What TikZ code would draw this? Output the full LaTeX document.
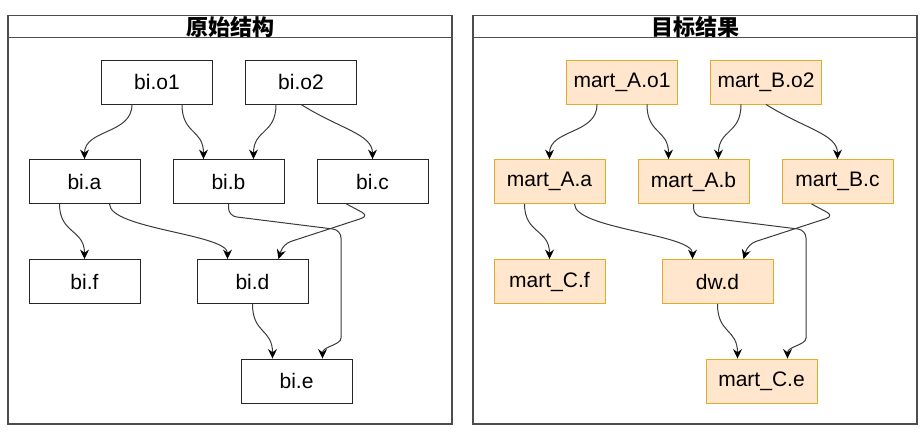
\documentclass[tikz,border=0pt]{standalone}
\usepackage{fontspec}
\setmainfont{Liberation Sans}
\newfontfamily\cjk{Noto Sans CJK SC}
\usetikzlibrary{arrows.meta}
\definecolor{peach}{HTML}{FFE6CC}
\definecolor{gold}{HTML}{E2AC2A}
\definecolor{wire}{HTML}{3A3A3A}
\definecolor{frame}{HTML}{4D4D4D}
\tikzset{
	tbl/.style={draw=black!85, line width=0.9pt, minimum width=111pt, minimum height=44pt, inner sep=0pt, font=\fontsize{21}{24}\selectfont},
	mart/.style={tbl, draw=gold, fill=peach},
	link/.style={draw=wire, line width=1pt, -{Stealth[length=9.5pt,width=9pt,inset=3.2pt,black]}},
	panel/.style={draw=frame, line width=1.3pt},
	ttl/.style={font=\cjk\bfseries\fontsize{22}{24}\selectfont, inner sep=0pt}
}

\begin{document}
\begin{tikzpicture}[x=1pt,y=-1pt]
	\useasboundingbox (0,0) rectangle (921,432);
	% frames
	\draw[panel] (8,15.5) rectangle (452,424) (8,37.5) -- (452,37.5);
	\draw[panel] (473,15.5) rectangle (917,424) (473,37.5) -- (917,37.5);
	\node[ttl] (ttlL) at (230,27) {原始结构};
	\node[ttl] (ttlR) at (695,27) {目标结果};
	% left tables
	\node[tbl] (lo1) at (157,82) {bi.o1};
	\node[tbl] (lo2) at (301,82) {bi.o2};
	\node[tbl] (la) at (84.5,181.5) {bi.a};
	\node[tbl] (lb) at (228.5,181.5) {bi.b};
	\node[tbl] (lc) at (372.5,181.5) {bi.c};
	\node[tbl] (lf) at (84.5,281.5) {bi.f};
	\node[tbl] (ld) at (252.5,281.5) {bi.d};
	\node[tbl] (le) at (296.5,381) {bi.e};
	% right tables
	\node[mart] (ro1) at (622,82) {mart\_A.o1};
	\node[mart] (ro2) at (766,82) {mart\_B.o2};
	\node[mart] (ra) at (549.5,181.5) {mart\_A.a};
	\node[mart] (rb) at (693.5,181.5) {mart\_A.b};
	\node[mart] (rc) at (837.5,181.5) {mart\_B.c};
	\node[mart] (rf) at (549.5,281.5) {mart\_C.f};
	\node[mart] (rd) at (717.5,281.5) {dw.d};
	\node[mart] (re) at (761.5,381) {mart\_C.e};
	% lineage
	\foreach \p/\sx in {l/0,r/465} {
		\draw[link] ([xshift=-25pt]\p o1.south) .. controls +(0,30) and +(0,-30) .. (\p a.north);
		\draw[link] ([xshift=25pt]\p o1.south) .. controls +(0,30) and +(0,-30) .. ([xshift=-25pt]\p b.north);
		\draw[link] ([xshift=-25pt]\p o2.south) .. controls +(0,30) and +(0,-30) .. ([xshift=25pt]\p b.north);
		\draw[link] (\p o2.south) .. controls +(40,25) and +(0,-25) .. (\p c.north);
		\draw[link] ([xshift=-25pt]\p a.south) .. controls +(0,30) and +(0,-30) .. (\p f.north);
		\draw[link] ([xshift=25pt]\p a.south) .. controls +(0,25) and +(0,-25) .. ([xshift=-25pt]\p d.north);
		\draw[link, rounded corners=8pt] (\p b.south) -- ++(0,12) -- ({341+\sx},230) -- ({341+\sx},330) .. controls +(0,15) and +(0,-12) .. ([xshift=26pt]\p e.north);
		\draw[link, rounded corners=8pt] ([xshift=-26pt]\p c.south) -- ({369+\sx},216) -- ({283+\sx},244) -- ([xshift=26pt]\p d.north);
		\draw[link] (\p d.south) .. controls +(0,30) and +(0,-30) .. ([xshift=-24pt]\p e.north);
	}
\end{tikzpicture}
\end{document}
